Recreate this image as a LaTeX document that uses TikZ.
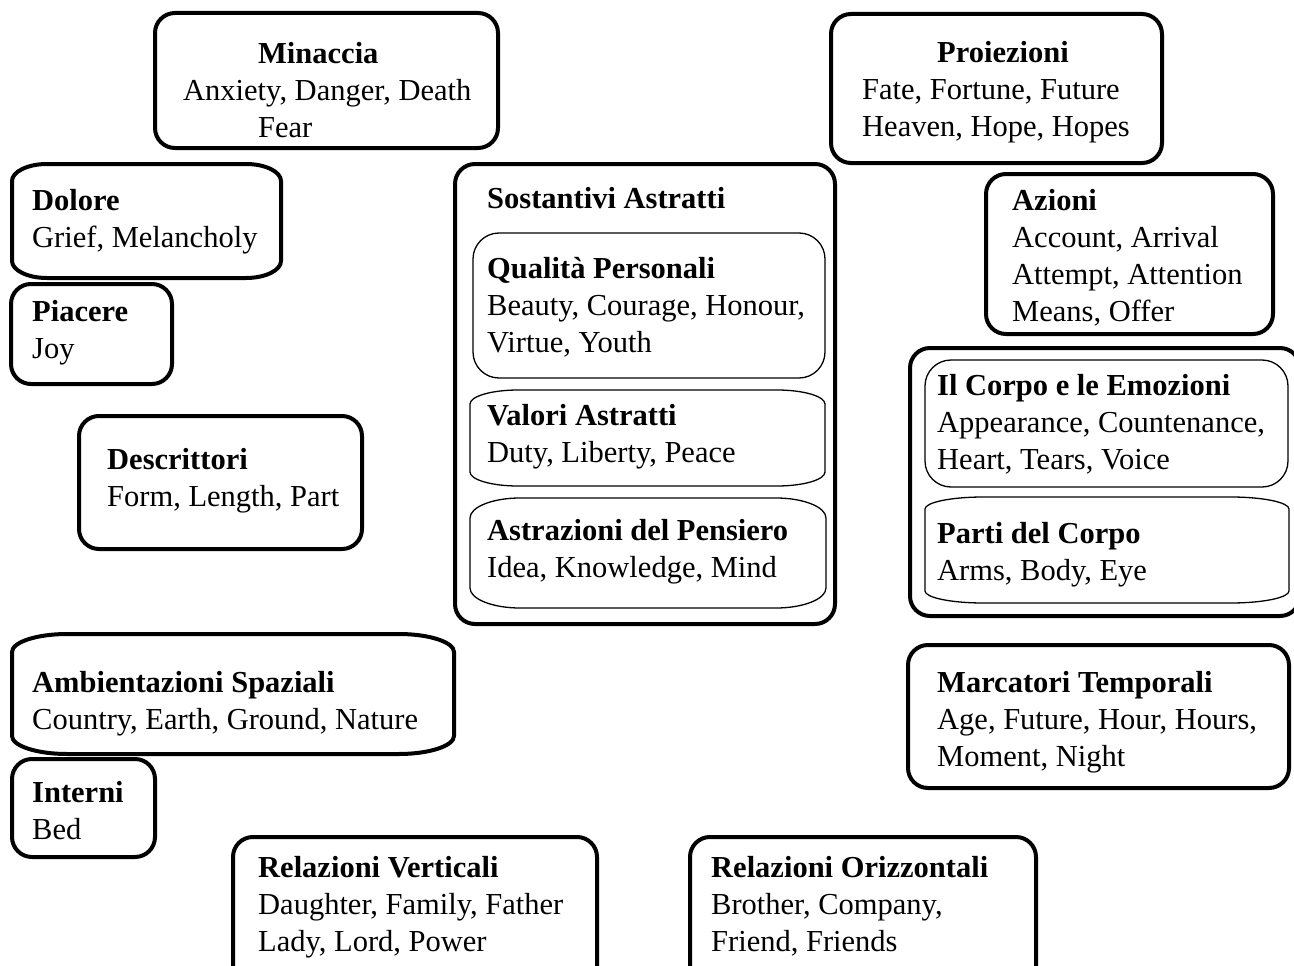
\documentclass[tikz,border=0pt]{standalone}
\usepackage{fontspec}
\setmainfont{Liberation Serif}
\usepackage{tikz}

% box with elliptic corners: style, x1, y1, x2, y2, rx, ry
\newcommand{\bulgebox}[7]{%
	\draw [#1] ({#2},{#3+#7}) .. controls ({#2},{#3+0.45*#7}) and ({#2+0.45*#6},{#3}) .. ({#2+#6},{#3})
		-- ({#4-#6},{#3}) .. controls ({#4-0.45*#6},{#3}) and ({#4},{#3+0.45*#7}) .. ({#4},{#3+#7})
		-- ({#4},{#5-#7}) .. controls ({#4},{#5-0.45*#7}) and ({#4-0.45*#6},{#5}) .. ({#4-#6},{#5})
		-- ({#2+#6},{#5}) .. controls ({#2+0.45*#6},{#5}) and ({#2},{#5-0.45*#7}) .. ({#2},{#5-#7}) -- cycle;}

\begin{document}
\begin{tikzpicture}
	[%
	x=1pt, y=-1pt,%
	outerline/.style={draw=black, line width=4pt, line join=round},%
	innerline/.style={draw=black, line width=1.3pt, line join=round},%
	outerbox/.style={outerline, rounded corners=20pt},%
	innerbox/.style={innerline, rounded corners=26pt},%
	words/.style   ={anchor=north west, yshift=21pt, inner sep=0pt, align=left,%
	                 font=\fontsize{30.5}{37}\selectfont, execute at begin node=\strut},%
	]

	\useasboundingbox (0,0) rectangle (1294,966);

	% boxes on the left
	\draw [outerbox] (155,13) rectangle (498,148);
	\bulgebox{outerline}{12}{164}{281}{278}{35}{17}
	\draw [outerbox] (11,284) rectangle (172,384);
	\draw [outerbox] (79,416) rectangle (362,549);
	\bulgebox{outerline}{12}{634}{454}{754}{55}{18}
	\draw [outerbox] (12,759) rectangle (155,857);

	% boxes at the bottom
	\draw [outerbox] (233,837) rectangle (597,1000);
	\draw [outerbox] (690,837) rectangle (1036,1000);

	% sostantivi astratti
	\draw [outerbox] (455,164) rectangle (835,624);
	\draw [innerbox] (473,233) rectangle (825,378);
	\bulgebox{innerline}{470}{390}{825}{486}{48}{14}
	\bulgebox{innerline}{470}{498}{826}{608}{50}{20}

	% boxes on the right
	\draw [outerbox] (831,14) rectangle (1162,163);
	\draw [outerbox] (986,174) rectangle (1273,334);
	\draw [outerbox] (910,348) rectangle (1300,616);
	\draw [innerbox] (925,360) rectangle (1288,487);
	\bulgebox{innerline}{925}{497}{1289}{603}{58}{12}
	\draw [outerbox] (908,645) rectangle (1289,788);

	% texts
	\node (minaccia)    [words] at (183,63)  {\hspace*{75pt}\textbf{Minaccia}\\Anxiety, Danger, Death\\\hspace*{75pt}Fear};
	\node (dolore)      [words] at (32,210)  {\textbf{Dolore}\\Grief, Melancholy};
	\node (piacere)     [words] at (32,321)  {\textbf{Piacere}\\Joy};
	\node (descrittori) [words] at (107,469) {\textbf{Descrittori}\\Form, Length, Part};
	\node (spaziali)    [words] at (32,692)  {\textbf{Ambientazioni Spaziali}\\Country, Earth, Ground, Nature};
	\node (interni)     [words] at (32,802)  {\textbf{Interni}\\Bed};

	\node (verticali)   [words] at (258,877) {\textbf{Relazioni Verticali}\\Daughter, Family, Father\\Lady, Lord, Power};
	\node (orizzontali) [words] at (711,877) {\textbf{Relazioni Orizzontali}\\Brother, Company,\\Friend, Friends};

	\node (sostantivi)  [words] at (487,203) {\textbf{Sostantivi Astratti}};
	\node (qualita)     [words] at (487,278) {\textbf{Qualità Personali}\\Beauty, Courage, Honour,\\Virtue, Youth};
	\node (valori)      [words] at (487,425) {\textbf{Valori Astratti}\\Duty, Liberty, Peace};
	\node (pensiero)    [words] at (487,540) {\textbf{Astrazioni del Pensiero}\\Idea, Knowledge, Mind};

	\node (proiezioni)  [words] at (862,62)  {\hspace*{75pt}\textbf{Proiezioni}\\Fate, Fortune, Future\\Heaven, Hope, Hopes};
	\node (azioni)      [words] at (1012,210) {\textbf{Azioni}\\Account, Arrival\\Attempt, Attention\\Means, Offer};
	\node (emozioni)    [words] at (937,395) {\textbf{Il Corpo e le Emozioni}\\Appearance, Countenance,\\Heart, Tears, Voice};
	\node (corpo)       [words] at (937,543) {\textbf{Parti del Corpo}\\Arms, Body, Eye};
	\node (temporali)   [words] at (937,692) {\textbf{Marcatori Temporali}\\Age, Future, Hour, Hours,\\Moment, Night};

\end{tikzpicture}
\end{document}
